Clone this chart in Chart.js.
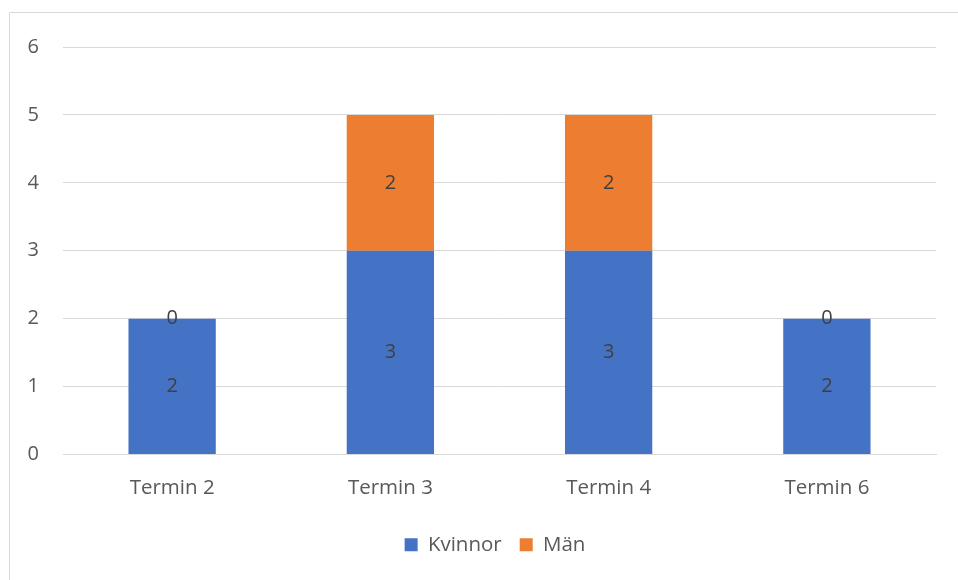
<!DOCTYPE html>
<html>
<head>
<meta charset="utf-8">
<script src="https://cdn.jsdelivr.net/npm/chart.js@4/dist/chart.umd.min.js"></script>
<style>
  html, body { margin: 0; padding: 0; background: #fff; }
  #wrap { width: 958px; height: 580px; position: relative; }
</style>
</head>
<body>
<div id="wrap"><canvas id="c" width="958" height="580"></canvas></div>
<script>
const categories = ["Termin 2", "Termin 3", "Termin 4", "Termin 6"];
const kvinnor = [2, 3, 3, 2];
const man = [0, 2, 2, 0];
const yTicks = [0, 1, 2, 3, 4, 5, 6];

const FONT = "'Open Sans', Lato, sans-serif";

const borderPlugin = {
  id: 'frame',
  beforeDraw(chart) {
    const ctx = chart.ctx;
    ctx.save();
    ctx.strokeStyle = '#d9d9d9';
    ctx.lineWidth = 1;
    ctx.beginPath();
    ctx.moveTo(9.5, chart.height);
    ctx.lineTo(9.5, 12.5);
    ctx.lineTo(chart.width, 12.5);
    ctx.stroke();
    ctx.restore();
  }
};

const legendShift = {
  id: 'legendShift',
  afterLayout(chart) {
    if (chart.legend) {
      chart.legend.left += 27;
      chart.legend.right += 27;
    }
  }
};

const labelPlugin = {
  id: 'valueLabels',
  afterDatasetsDraw(chart) {
    const ctx = chart.ctx;
    ctx.save();
    ctx.fillStyle = '#404040';
    ctx.font = '20px ' + FONT;
    ctx.textAlign = 'center';
    ctx.textBaseline = 'middle';
    chart.data.datasets.forEach((ds, i) => {
      const meta = chart.getDatasetMeta(i);
      meta.data.forEach((el, j) => {
        const y = (el.y + el.base) / 2;
        ctx.fillText(String(ds.data[j]), el.x, y);
      });
    });
    ctx.restore();
  }
};

new Chart(document.getElementById('c'), {
  type: 'bar',
  data: {
    labels: categories,
    datasets: [
      { label: 'Kvinnor', data: kvinnor, backgroundColor: '#4472C4', borderWidth: 0 },
      { label: 'Män', data: man, backgroundColor: '#ED7D31', borderWidth: 0 }
    ]
  },
  options: {
    responsive: false,
    animation: false,
    devicePixelRatio: 1,
    layout: { padding: { left: 0, right: 22, top: 47, bottom: 15 } },
    datasets: { bar: { categoryPercentage: 1.0, barPercentage: 0.4 } },
    scales: {
      x: {
        stacked: true,
        grid: { display: false, drawTicks: false },
        border: { display: true, color: '#d9d9d9', width: 1 },
        ticks: { color: '#595959', font: { family: FONT, size: 20.5 }, padding: 21 },
        afterFit(scale) { scale.height = 62; }
      },
      y: {
        stacked: true,
        min: 0, max: 6,
        afterBuildTicks(scale) { scale.ticks = yTicks.map(v => ({ value: v })); },
        grid: { color: '#d9d9d9', lineWidth: 1, drawTicks: false },
        border: { display: false },
        ticks: { color: '#595959', font: { family: FONT, size: 20 }, padding: 24 },
        afterFit(scale) { scale.width = 63; }
      }
    },
    plugins: {
      legend: {
        position: 'bottom',
        labels: {
          boxWidth: 13, boxHeight: 13, padding: 18,
          color: '#595959',
          font: { family: FONT, size: 20.5 }
        }
      },
      tooltip: { enabled: false }
    }
  },
  plugins: [borderPlugin, legendShift, labelPlugin]
});
</script>
</body>
</html>
